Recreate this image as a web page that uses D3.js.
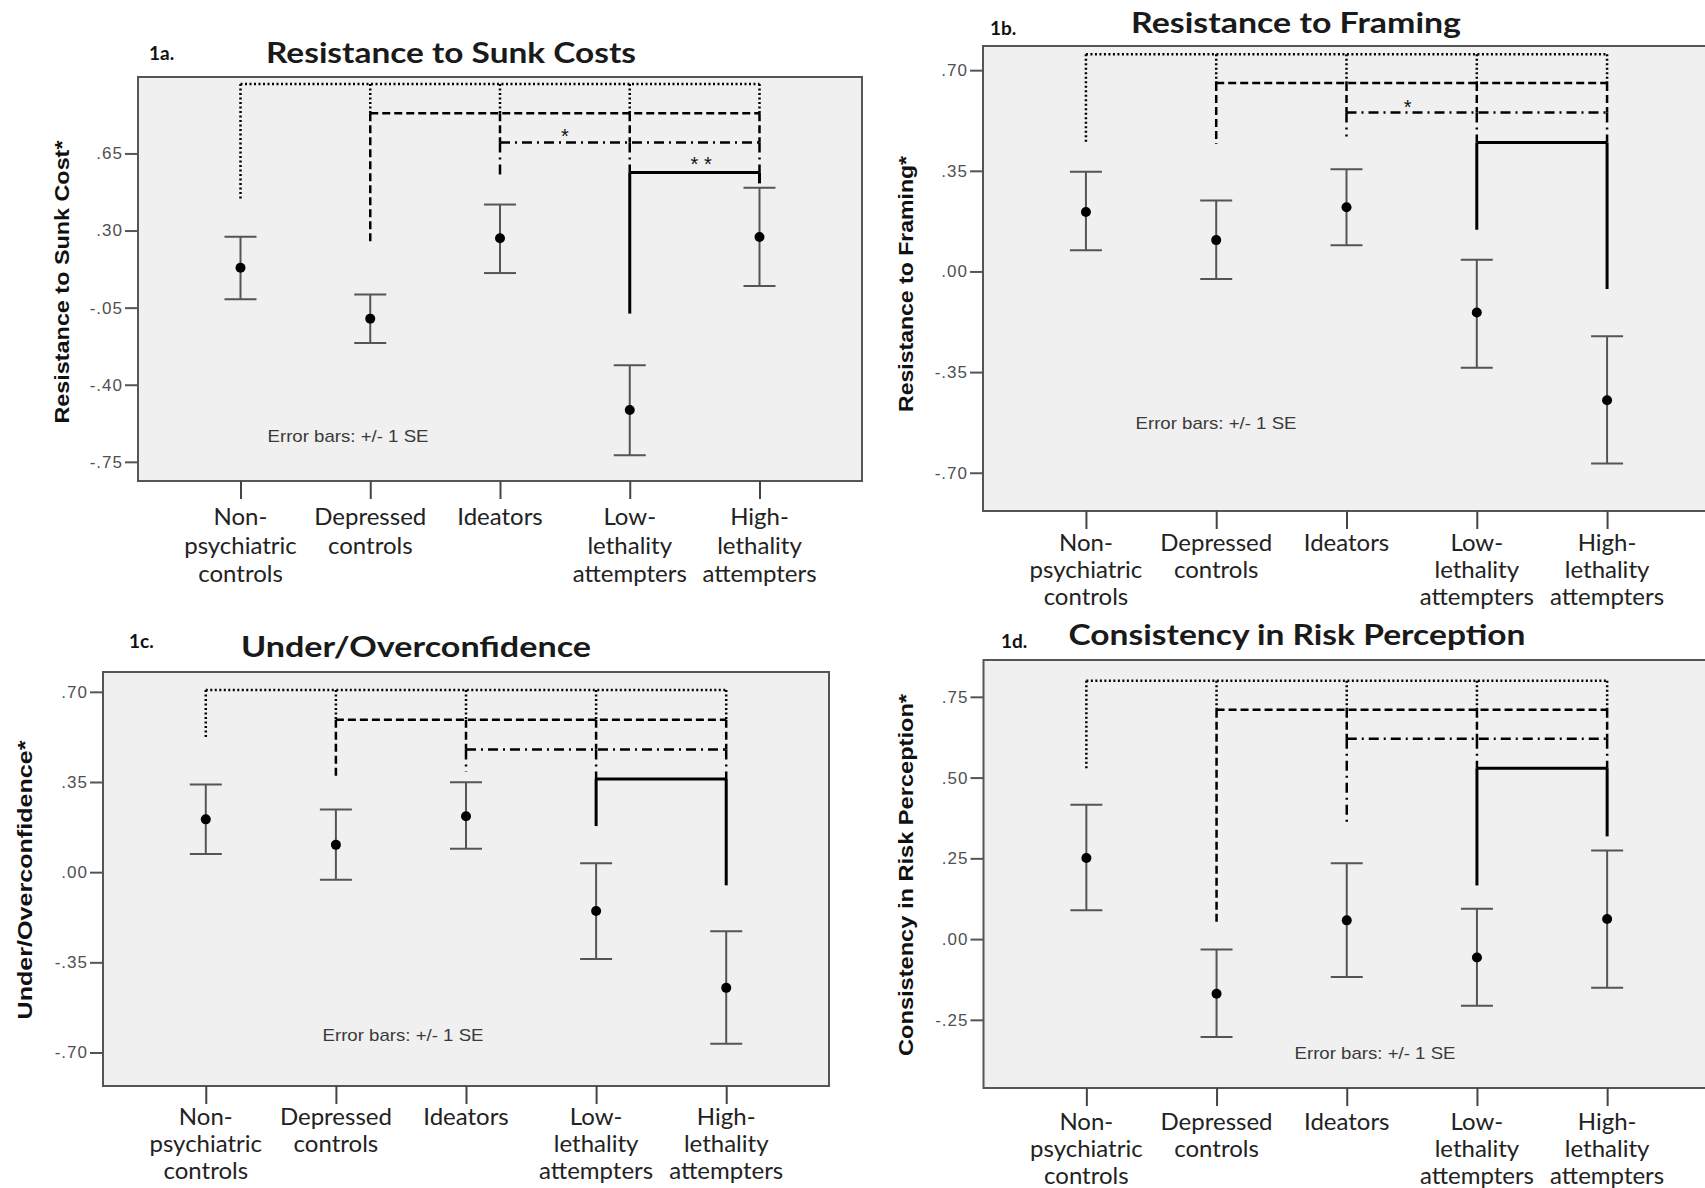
<!doctype html>
<html>
<head>
<meta charset="utf-8">
<script src="https://d3js.org/d3.v7.min.js"></script>
<style>
  body { margin: 0; background: #fff; }
  svg { display: block; }
</style>
</head>
<body>
<div class="chart"></div>
<script>
// groups on the x axis (split into the lines they are printed on)
var groupLines = [["Non-", "psychiatric", "controls"], ["Depressed", "controls"], ["Ideators"],
                  ["Low-", "lethality", "attempters"], ["High-", "lethality", "attempters"]];
var groups = ["Non-psychiatric controls", "Depressed controls", "Ideators",
              "Low-lethality attempters", "High-lethality attempters"];

var panelIds = ["1a.", "1b.", "1c.", "1d."];
var titles = ["Resistance to Sunk Costs", "Resistance to Framing", "Under/Overconfidence", "Consistency in Risk Perception"];
var yTitles = ["Resistance to Sunk Cost*", "Resistance to Framing*", "Under/Overconfidence*", "Consistency in Risk Perception*"];
var yTicks = [[0.65, 0.30, -0.05, -0.40, -0.75], [0.70, 0.35, 0.00, -0.35, -0.70],
              [0.70, 0.35, 0.00, -0.35, -0.70], [0.75, 0.50, 0.25, 0.00, -0.25]];
var yRanges = [[-0.837, 0.997], [-0.833, 0.784], [-0.830, 0.777], [-0.461, 0.864]];

// 1a resistance to sunk costs
var sunkMean = [0.131, -0.100, 0.265, -0.515, 0.271];
var sunkLow  = [-0.012, -0.210, 0.107, -0.720, 0.048];
var sunkHigh = [0.272, 0.010, 0.418, -0.312, 0.494];
var sunkBracket = [0.965, 0.832, 0.700, 0.564];        // dotted, dashed, dash-dot, solid
var sunkLegs = [0.435, 0.243, 0.540, -0.077, 0.514];   // left leg ends, last = right leg of solid
var sunkStarPos = [2.5, 3.55];
var sunkStarY = [0.748, 0.620];
var sunkStarText = ["*", "* *"];

// 1b resistance to framing
var framingMean = [0.207, 0.109, 0.223, -0.143, -0.448];
var framingLow  = [0.074, -0.026, 0.091, -0.335, -0.668];
var framingHigh = [0.347, 0.247, 0.355, 0.041, -0.225];
var framingBracket = [0.755, 0.655, 0.553, 0.448];
var framingLegs = [0.444, 0.444, 0.469, 0.145, -0.061];
var framingStarPos = [2.47];
var framingStarY = [0.587];
var framingStarText = ["*"];

// 1c under/overconfidence
var confMean = [0.205, 0.106, 0.217, -0.151, -0.449];
var confLow  = [0.071, -0.029, 0.091, -0.337, -0.666];
var confHigh = [0.340, 0.243, 0.349, 0.035, -0.229];
var confBracket = [0.707, 0.592, 0.476, 0.362];
var confLegs = [0.516, 0.365, 0.389, 0.179, -0.051];

// 1d consistency in risk perception
var riskMean = [0.251, -0.169, 0.058, -0.057, 0.062];
var riskLow  = [0.089, -0.303, -0.117, -0.206, -0.151];
var riskHigh = [0.416, -0.032, 0.235, 0.094, 0.274];
var riskBracket = [0.800, 0.710, 0.620, 0.529];
var riskLegs = [0.525, 0.053, 0.352, 0.166, 0.318];

var panels = [
  {mean: sunkMean, lo: sunkLow, hi: sunkHigh, br: sunkBracket, legs: sunkLegs, starPos: sunkStarPos, starY: sunkStarY, starText: sunkStarText},
  {mean: framingMean, lo: framingLow, hi: framingHigh, br: framingBracket, legs: framingLegs, starPos: framingStarPos, starY: framingStarY, starText: framingStarText},
  {mean: confMean, lo: confLow, hi: confHigh, br: confBracket, legs: confLegs, starPos: [], starY: [], starText: []},
  {mean: riskMean, lo: riskLow, hi: riskHigh, br: riskBracket, legs: riskLegs, starPos: [], starY: [], starText: []}
];

// where each panel sits on the page
var layout = [
  {x0: 138, y0: 77, x1: 862, y1: 481, tX: 451, tY: 63, tW: 370, idX: 149, idY: 60, ytX: 62, ytY: 282, ytW: 283, nX: 348, nY: 442, cY: 517, cStep: 28.3},
  {x0: 983, y0: 46, x1: 1710, y1: 511, tX: 1296, tY: 33, tW: 330, idX: 990, idY: 35, ytX: 906, ytY: 284, ytW: 256, nX: 1216, nY: 429, cY: 543, cStep: 27},
  {x0: 103, y0: 672, x1: 829, y1: 1086, tX: 416, tY: 657, tW: 350, idX: 129, idY: 648, ytX: 25, ytY: 880, ytW: 279, nX: 403, nY: 1041, cY: 1117, cStep: 27},
  {x0: 983.5, y0: 660, x1: 1710, y1: 1088, tX: 1297, tY: 645, tW: 457, idX: 1001, idY: 648, ytX: 906, ytY: 875, ytW: 362, nX: 1375, nY: 1059, cY: 1122, cStep: 27}
];

var width = 1705, height = 1188;
var svg = d3.select('.chart').append('svg')
  .attr('width', width).attr('height', height);

var dashes = ["2,2.5", "8,4", "10,5,2,5", null];

function fmt(v) {
  var s = Math.abs(v).toFixed(2).replace(/^0/, '');
  return (v < -0.0001 ? '-' : '') + s;
}

panels.forEach(function(p, i) {
  var L = layout[i];
  var g = svg.append('g');

  var x = d3.scalePoint().domain(groups).range([L.x0, L.x1]).padding(0.79);
  var y = d3.scaleLinear().domain(yRanges[i]).range([L.y1, L.y0]);
  var xAt = function(pos) {   // fractional group position
    var k = Math.floor(pos), f = pos - k;
    var a = x(groups[k]), b = x(groups[Math.min(k + 1, 4)]);
    return a + (b - a) * f;
  };

  // plot area
  g.append('rect')
    .attr('x', L.x0).attr('y', L.y0)
    .attr('width', L.x1 - L.x0).attr('height', L.y1 - L.y0)
    .style('fill', '#f0f0f0').style('stroke', '#555').style('stroke-width', 2);

  // y axis
  var ya = g.append('g').attr('transform', 'translate(' + L.x0 + ',0)')
    .call(d3.axisLeft(y).tickValues(yTicks[i]).tickFormat(fmt).tickSize(13).tickPadding(2));
  ya.select('.domain').remove();
  ya.selectAll('line').style('stroke', '#555').style('stroke-width', 2);
  ya.selectAll('text').style('font-family', '"Liberation Sans", Arial, sans-serif')
    .style('font-size', '17px').style('letter-spacing', '1px').style('fill', '#505050');

  // x axis ticks
  var xa = g.append('g').attr('transform', 'translate(0,' + L.y1 + ')')
    .call(d3.axisBottom(x).tickSize(18).tickFormat(''));
  xa.select('.domain').remove();
  xa.selectAll('line').style('stroke', '#444').style('stroke-width', 2);

  // category labels
  groups.forEach(function(gr, j) {
    groupLines[j].forEach(function(line, k) {
      g.append('text')
        .attr('x', x(gr)).attr('y', L.cY + k * L.cStep)
        .attr('dy', '0.35em')
        .attr('text-anchor', 'middle')
        .style('font-family', 'Lato, "Open Sans", sans-serif')
        .style('font-size', '24px').style('fill', '#222')
        .text(line);
    });
  });

  // significance brackets
  for (var k = 0; k < 4; k++) {
    var st = {dash: dashes[k], w: k == 3 ? 3 : 2.5};
    var segs = [];
    segs.push([[k, p.br[k]], [4, p.br[k]]]);
    segs.push([[k, p.br[k]], [k, p.legs[k]]]);
    for (var j = k + 1; j <= 4; j++) {
      var end = k < 3 ? p.br[k + 1] : p.legs[4];
      segs.push([[j, p.br[k]], [j, end]]);
    }
    var line = d3.line().x(function(d) { return x(groups[d[0]]); }).y(function(d) { return y(d[1]); });
    segs.forEach(function(s) {
      g.append('path').attr('d', line(s))
        .style('fill', 'none').style('stroke', '#000')
        .style('stroke-width', st.w)
        .style('stroke-dasharray', st.dash);
    });
  }

  // stars
  p.starPos.forEach(function(pos, j) {
    g.append('text')
      .attr('x', xAt(pos)).attr('y', y(p.starY[j]))
      .attr('dy', '0.55em')
      .attr('text-anchor', 'middle')
      .style('font-family', '"Liberation Sans", Arial, sans-serif')
      .style('font-size', '20px').style('fill', '#111')
      .text(p.starText[j]);
  });

  // error bars
  var eb = g.selectAll('.eb').data(groups).enter().append('g');
  eb.append('line')
    .attr('x1', function(d) { return x(d); }).attr('x2', function(d) { return x(d); })
    .attr('y1', function(d, j) { return y(p.lo[j]); }).attr('y2', function(d, j) { return y(p.hi[j]); })
    .style('stroke', '#555').style('stroke-width', 2);
  [p.lo, p.hi].forEach(function(arr) {
    eb.append('line')
      .attr('x1', function(d) { return x(d) - 16; }).attr('x2', function(d) { return x(d) + 16; })
      .attr('y1', function(d, j) { return y(arr[j]); }).attr('y2', function(d, j) { return y(arr[j]); })
      .style('stroke', '#555').style('stroke-width', 2);
  });
  eb.append('circle')
    .attr('cx', function(d) { return x(d); })
    .attr('cy', function(d, j) { return y(p.mean[j]); })
    .attr('r', 5).style('fill', '#000');

  // note
  g.append('text')
    .attr('x', L.nX).attr('y', L.nY)
    .attr('text-anchor', 'middle')
    .attr('textLength', 161).attr('lengthAdjust', 'spacingAndGlyphs')
    .style('font-family', '"Liberation Sans", sans-serif')
    .style('font-size', '17px').style('fill', '#3a3a3a')
    .text('Error bars: +/- 1 SE');

  // titles
  g.append('text')
    .attr('x', L.tX).attr('y', L.tY)
    .attr('text-anchor', 'middle')
    .attr('textLength', L.tW).attr('lengthAdjust', 'spacingAndGlyphs')
    .style('font-family', 'Lato, sans-serif').style('font-weight', 'bold')
    .style('font-size', '28px').style('fill', '#1a1a1a')
    .text(titles[i]);
  g.append('text')
    .attr('x', L.idX).attr('y', L.idY)
    .style('font-family', 'Lato, sans-serif').style('font-weight', 'bold')
    .style('font-size', '19px').style('fill', '#111')
    .text(panelIds[i]);

  g.append('text')
    .attr('transform', 'translate(' + L.ytX + ',' + L.ytY + ') rotate(-90)')
    .attr('dy', '0.35em')
    .attr('text-anchor', 'middle')
    .attr('textLength', L.ytW).attr('lengthAdjust', 'spacingAndGlyphs')
    .style('font-family', '"Liberation Sans", Arial, sans-serif').style('font-weight', 'bold')
    .style('font-size', '21px').style('fill', '#111')
    .text(yTitles[i]);
});
</script>
</body>
</html>
